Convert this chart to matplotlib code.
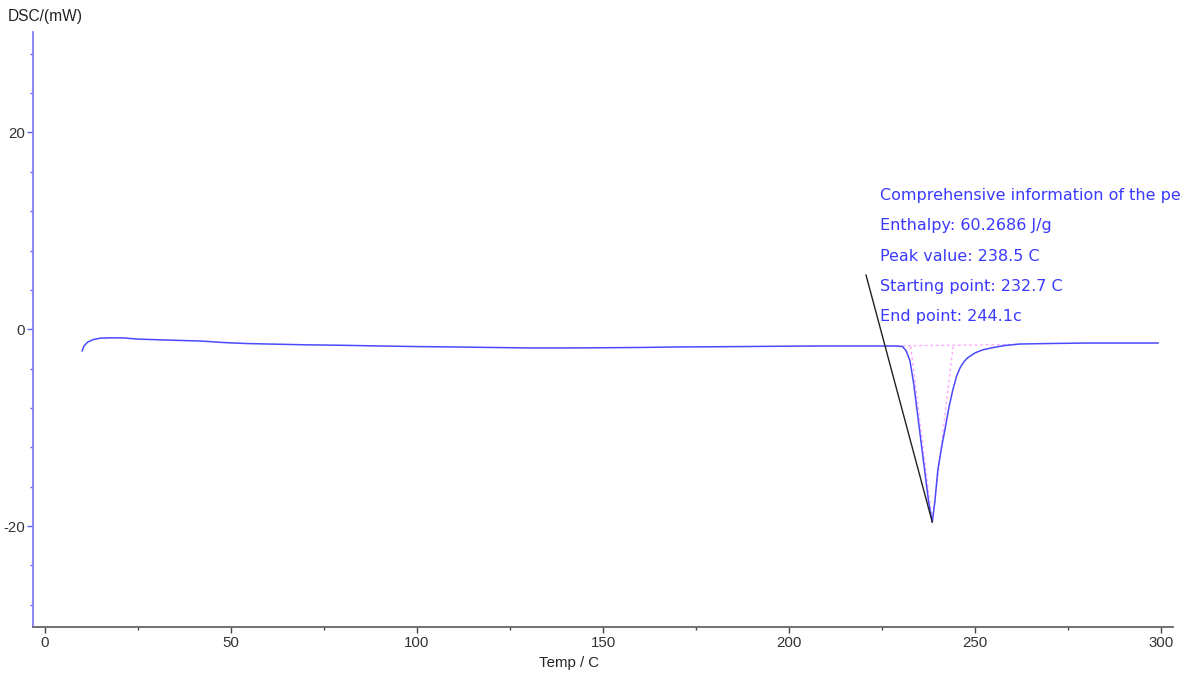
import matplotlib
matplotlib.use("Agg")
import matplotlib.pyplot as plt
from matplotlib.ticker import MultipleLocator

plt.rcParams['font.family'] = ['Liberation Sans', 'DejaVu Sans']
plt.rcParams['axes.unicode_minus'] = False

# ---- data ----
temp = [10, 10.5, 11.5, 13, 15, 18, 21, 25, 33, 42, 48, 54, 60, 70, 80, 90, 100,
        110, 120, 130, 140, 150, 160, 170, 180, 190, 200, 210, 220, 228, 230.5,
        231.5, 232.5, 233.5, 234.5, 235.5, 236.5, 237.5, 238.5, 239.2, 240, 241,
        242, 243, 244, 245, 246, 247, 248, 250, 252, 255, 258, 262, 270, 280,
        290, 299.2]
dsc = [-2.2, -1.7, -1.3, -1.05, -0.9, -0.87, -0.88, -1.0, -1.1, -1.2, -1.35, -1.45,
       -1.5, -1.58, -1.63, -1.7, -1.76, -1.8, -1.85, -1.9, -1.9, -1.88, -1.85,
       -1.8, -1.78, -1.75, -1.72, -1.7, -1.7, -1.7, -1.75, -2.2, -3.2, -5.5,
       -8.5, -11.5, -14.5, -17.5, -19.6, -17.5, -14.3, -12.0, -10.0, -7.9, -6.2,
       -4.8, -3.9, -3.3, -2.9, -2.4, -2.1, -1.85, -1.65, -1.5, -1.45, -1.4,
       -1.4, -1.4]

peak_T, peak_val = 238.5, -19.6
onset_T, end_T = 232.7, 244.1
baseline_T = [226, 262]
baseline_val = [-1.7, -1.55]
info_lines = ["Comprehensive information of the peak",
              "Enthalpy: 60.2686 J/g",
              "Peak value: 238.5 C",
              "Starting point: 232.7 C",
              "End point: 244.1c"]
leader_start = (220.7, 5.5)

# ---- figure ----
fig = plt.figure(figsize=(11.82, 6.78), dpi=100)
ax = fig.add_axes([33/1182, 1-626.5/678, (1173-33)/1182, (626.5-32)/678])

blue = '#4a4aff'
pink = '#ffa8ff'

ax.plot(temp, dsc, color=blue, lw=1.1, zorder=3)
# baseline and tangents
ax.plot(baseline_T, baseline_val, color=pink, lw=1.0, ls=(0, (2, 2)), zorder=2)
ax.plot([onset_T, peak_T], [-1.75, peak_val], color=pink, lw=1.0, ls=(0, (2, 2)), zorder=2)
ax.plot([end_T, peak_T], [-1.75, peak_val], color=pink, lw=1.0, ls=(0, (2, 2)), zorder=2)
# leader line
ax.plot([leader_start[0], peak_T], [leader_start[1], peak_val], color='#222222', lw=1.0, zorder=4)

ys = [13.6, 10.5, 7.4, 4.3, 1.3]
for s, yv in zip(info_lines, ys):
    ax.text(224.4, yv, s, color='#3a3aff', fontsize=11.5, va='center', ha='left',
            family='DejaVu Sans', clip_on=False)

ax.set_xlim(-3.2, 303.2)
ax.set_ylim(-30.2, 30.2)
ax.xaxis.set_major_locator(MultipleLocator(50))
ax.xaxis.set_minor_locator(MultipleLocator(25))
ax.yaxis.set_major_locator(MultipleLocator(20))
ax.yaxis.set_minor_locator(MultipleLocator(4))

for side in ['top', 'right']:
    ax.spines[side].set_visible(False)
ax.spines['left'].set_color('#8080ff')
ax.spines['left'].set_linewidth(1.3)
ax.spines['bottom'].set_color('#666666')
ax.spines['bottom'].set_linewidth(1.3)

ax.tick_params(axis='x', which='major', direction='out', length=4, width=1,
               color='#444444', labelsize=10.8, labelcolor='#333333', pad=3)
ax.tick_params(axis='x', which='minor', direction='out', length=2, width=1,
               color='#444444')
ax.tick_params(axis='y', which='major', direction='out', length=4, width=1,
               color='#6060ff', labelsize=10.8, labelcolor='#333333', pad=2)
ax.tick_params(axis='y', which='minor', direction='out', length=2, width=1,
               color='#6060ff')

fig.text(8/1182, 1-16/678, "DSC/(mW)", fontsize=11.2, color='#222222', va='center', ha='left')
fig.text(569/1182, 1-663/678, "Temp / C", fontsize=10.8, color='#222222', va='center', ha='center')

fig.savefig('out.png', dpi=100)
